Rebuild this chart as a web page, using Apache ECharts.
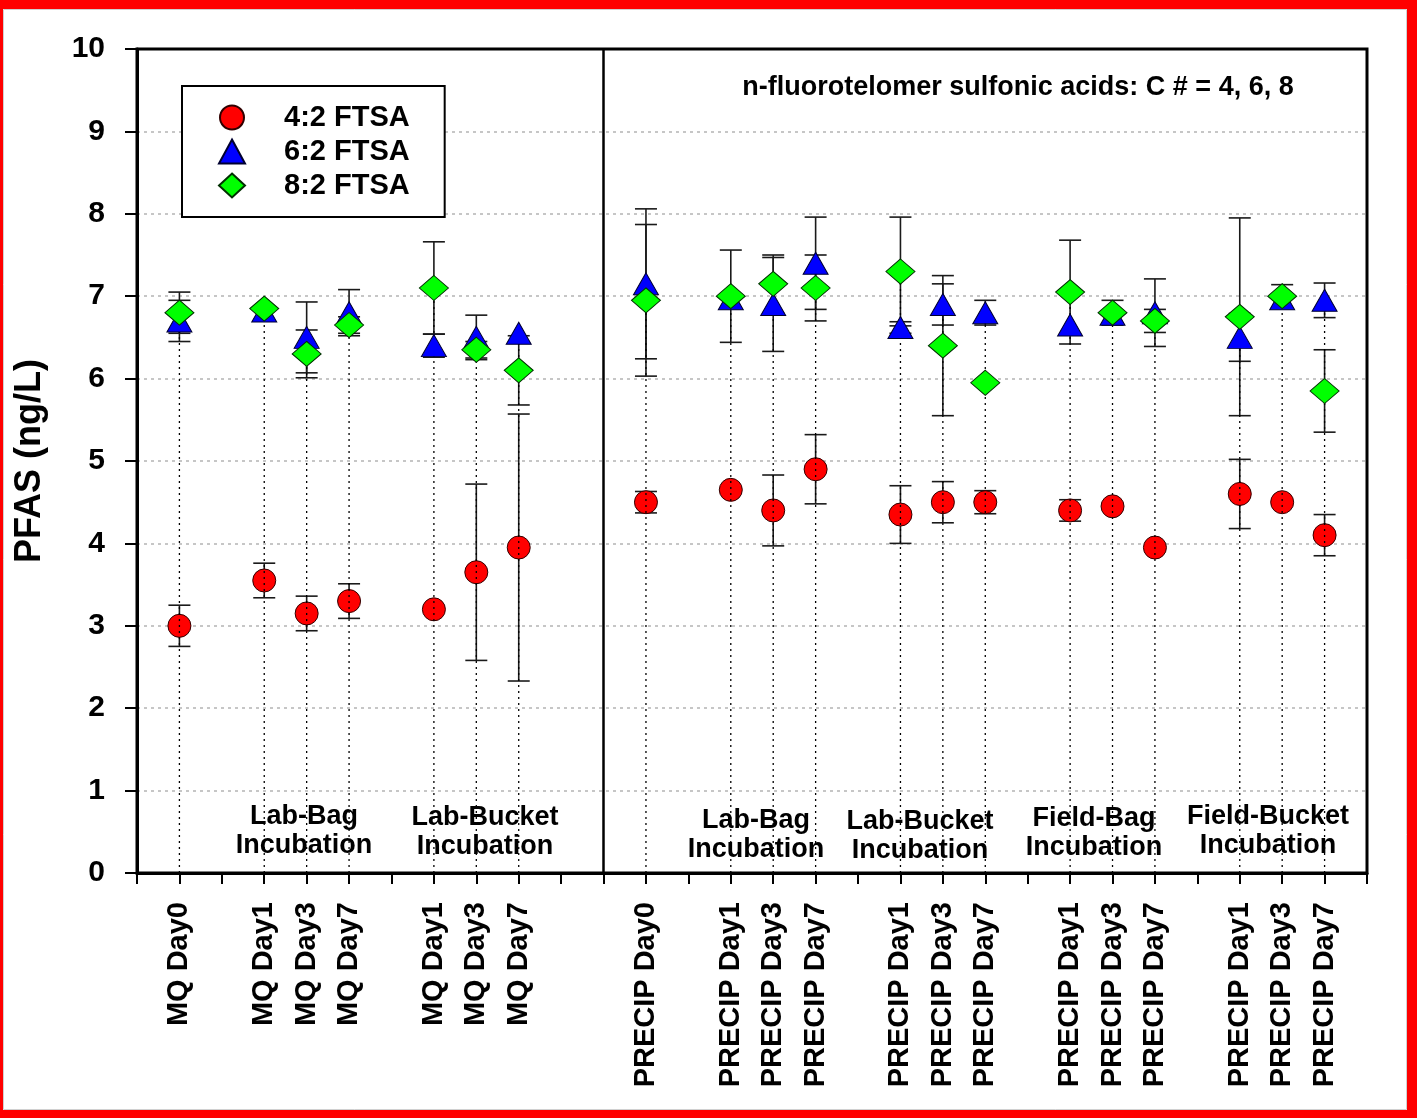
<!DOCTYPE html>
<html>
<head>
<meta charset="utf-8">
<script src="https://cdn.jsdelivr.net/npm/echarts@6/dist/echarts.min.js"></script>
<style>
  html, body { margin: 0; padding: 0; background: #fff; }
  #chart { width: 1417px; height: 1118px; }
</style>
</head>
<body>
<div id="chart"></div>
<script>
// Sample slots on the x axis (gaps separate the incubation groups)
const positions = [1, 3, 4, 5, 7, 8, 9, 12, 14, 15, 16, 18, 19, 20, 22, 23, 24, 26, 27, 28];
const sampleLabels = [
  'MQ Day0', 'MQ Day1', 'MQ Day3', 'MQ Day7', 'MQ Day1', 'MQ Day3', 'MQ Day7',
  'PRECIP Day0', 'PRECIP Day1', 'PRECIP Day3', 'PRECIP Day7',
  'PRECIP Day1', 'PRECIP Day3', 'PRECIP Day7',
  'PRECIP Day1', 'PRECIP Day3', 'PRECIP Day7',
  'PRECIP Day1', 'PRECIP Day3', 'PRECIP Day7'
];
const seriesNames = ['4:2 FTSA', '6:2 FTSA', '8:2 FTSA'];

// Mean concentrations (ng/L)
const ftsa42 = [3.0, 3.55, 3.15, 3.3, 3.2, 3.65, 3.95, 4.5, 4.65, 4.4, 4.9, 4.35, 4.5, 4.5, 4.4, 4.45, 3.95, 4.6, 4.5, 4.1];
const ftsa62 = [6.7, 6.82, 6.5, 6.8, 6.4, 6.5, 6.55, 7.15, 6.97, 6.9, 7.4, 6.62, 6.9, 6.8, 6.65, 6.78, 6.8, 6.5, 6.97, 6.95];
const ftsa82 = [6.8, 6.85, 6.3, 6.65, 7.1, 6.35, 6.1, 6.95, 7.0, 7.15, 7.1, 7.3, 6.4, 5.95, 7.05, 6.8, 6.7, 6.75, 7.0, 5.85];

// Standard deviations (null = no bar drawn)
const err42 = [0.25, 0.21, 0.21, 0.21, null, 1.07, 1.62, 0.13, null, 0.43, 0.42, 0.35, 0.25, 0.14, 0.13, null, null, 0.42, null, 0.25];
const err62 = [0.25, null, 0.43, 0.28, 0.14, 0.27, null, 0.91, null, 0.57, 0.56, 0.07, 0.25, 0.15, null, null, 0.41, 0.29, null, 0.21];
const err82 = [0.25, null, 0.29, 0.1, 0.56, 0.1, 0.42, 0.92, 0.56, 0.35, 0.4, 0.66, 0.85, null, 0.63, 0.15, 0.14, 1.2, 0.14, 0.5];

const yTicks = [0, 1, 2, 3, 4, 5, 6, 7, 8, 9, 10];

const groupLabels = [
  { text: 'Lab-Bag\nIncubation', x: 304, y: 831 },
  { text: 'Lab-Bucket\nIncubation', x: 485, y: 832 },
  { text: 'Lab-Bag\nIncubation', x: 756, y: 835 },
  { text: 'Lab-Bucket\nIncubation', x: 920, y: 836 },
  { text: 'Field-Bag\nIncubation', x: 1094, y: 833 },
  { text: 'Field-Bucket\nIncubation', x: 1268, y: 831 }
];

const FONT = '"Liberation Sans", Arial, Helvetica, sans-serif';
const labelAt = {};
positions.forEach((p, i) => { labelAt[p] = sampleLabels[i]; });

function pairs(vals) { return positions.map((x, i) => [x, vals[i]]); }
function errRows(vals, errs) {
  const out = [];
  positions.forEach((x, i) => {
    if (errs[i] != null) out.push([x, vals[i] - errs[i], vals[i] + errs[i]]);
  });
  return out;
}
const dropRows = positions.map((x, i) => [x, Math.max(ftsa42[i], ftsa62[i], ftsa82[i])]);

function renderErr(params, api) {
  const x = api.value(0);
  const lo = api.coord([x, api.value(1)]);
  const hi = api.coord([x, api.value(2)]);
  const w = 11;
  const st = { stroke: '#1a1a1a', lineWidth: 1.6 };
  return {
    type: 'group',
    children: [
      { type: 'line', shape: { x1: lo[0], y1: lo[1], x2: hi[0], y2: hi[1] }, style: st },
      { type: 'line', shape: { x1: lo[0] - w, y1: lo[1], x2: lo[0] + w, y2: lo[1] }, style: st },
      { type: 'line', shape: { x1: hi[0] - w, y1: hi[1], x2: hi[0] + w, y2: hi[1] }, style: st }
    ]
  };
}
function renderDrop(params, api) {
  const x = api.value(0);
  const a = api.coord([x, 0]);
  const b = api.coord([x, api.value(1)]);
  return {
    type: 'line',
    shape: { x1: a[0], y1: a[1], x2: b[0], y2: b[1] },
    style: { stroke: '#000', lineWidth: 1.3, lineDash: [2, 4] }
  };
}

const chart = echarts.init(document.getElementById('chart'), null, { renderer: 'canvas' });

const option = {
  backgroundColor: '#fff',
  animation: false,
  textStyle: { fontFamily: FONT },
  grid: { left: 137, top: 49, right: 50, bottom: 245, show: true, borderColor: '#000', borderWidth: 3, backgroundColor: 'transparent' },
  legend: {
    orient: 'vertical',
    left: 182, top: 86,
    padding: [17, 35, 17, 36],
    itemGap: 5,
    itemWidth: 26, itemHeight: 24,
    borderColor: '#000', borderWidth: 2,
    backgroundColor: '#fff',
    selectedMode: false,
    data: [
      { name: seriesNames[0], icon: 'circle' },
      { name: seriesNames[1], icon: 'triangle' },
      { name: seriesNames[2], icon: 'diamond' }
    ],
    textStyle: { fontFamily: FONT, fontSize: 29, fontWeight: 'bold', color: '#000', padding: [0, 0, 0, 34], lineHeight: 24 }
  },
  xAxis: {
    type: 'value', min: 0, max: 29, interval: 1,
    axisLine: { show: true, lineStyle: { color: '#000', width: 3 } },
    axisTick: { show: true, inside: false, length: 11, lineStyle: { color: '#000', width: 2 } },
    splitLine: { show: false },
    axisLabel: {
      rotate: 90, margin: 29,
      fontFamily: FONT, fontSize: 29, fontWeight: 'bold', color: '#000',
      formatter: v => labelAt[v] || ''
    }
  },
  yAxis: {
    type: 'value', min: yTicks[0], max: yTicks[yTicks.length - 1], interval: 1,
    name: 'PFAS (ng/L)', nameLocation: 'middle', nameGap: 89,
    nameTextStyle: { fontFamily: FONT, fontSize: 36, fontWeight: 'bold', color: '#000' },
    axisLine: { show: true, lineStyle: { color: '#000', width: 3 } },
    axisTick: { show: true, inside: false, length: 12, lineStyle: { color: '#000', width: 2 } },
    splitLine: { show: true, showMinLine: false, showMaxLine: false, lineStyle: { color: '#b4b4b4', width: 1.5, type: [3, 4] } },
    axisLabel: { margin: 32, fontFamily: FONT, fontSize: 30, fontWeight: 'bold', color: '#000' }
  },
  series: [
    {
      type: 'custom', name: 'err42', renderItem: renderErr, data: errRows(ftsa42, err42),
      encode: { x: 0, y: [1, 2] }, z: 2, silent: true
    },
    {
      type: 'custom', name: 'err62', renderItem: renderErr, data: errRows(ftsa62, err62),
      encode: { x: 0, y: [1, 2] }, z: 2, silent: true
    },
    {
      type: 'custom', name: 'err82', renderItem: renderErr, data: errRows(ftsa82, err82),
      encode: { x: 0, y: [1, 2] }, z: 2, silent: true
    },
    {
      name: seriesNames[0], type: 'scatter', symbol: 'circle', symbolSize: 23,
      itemStyle: { color: '#ff0000', borderColor: '#300000', borderWidth: 1, opacity: 1 },
      data: pairs(ftsa42), z: 3
    },
    {
      type: 'custom', name: 'drop', renderItem: renderDrop, data: dropRows,
      encode: { x: 0, y: 1 }, z: 4, silent: true,
      markLine: {
        silent: true, symbol: 'none', label: { show: false },
        lineStyle: { color: '#000', width: 2.5, type: 'solid' },
        data: [{ xAxis: 11 }]
      }
    },
    {
      name: seriesNames[1], type: 'scatter', symbol: 'triangle', symbolSize: [25, 22],
      itemStyle: { color: '#0000ff', borderColor: '#000030', borderWidth: 1, opacity: 1 },
      data: pairs(ftsa62), z: 5
    },
    {
      name: seriesNames[2], type: 'scatter', symbol: 'diamond', symbolSize: [29, 25],
      itemStyle: { color: '#00ff00', borderColor: '#003000', borderWidth: 1, opacity: 1 },
      data: pairs(ftsa82), z: 6
    }
  ],
  graphic: [
    // page frame
    { type: 'rect', left: 0, top: 0, shape: { width: 1417, height: 9 }, style: { fill: '#ff0000' }, z: 100 },
    { type: 'rect', left: 0, top: 1110, shape: { width: 1417, height: 8 }, style: { fill: '#ff0000' }, z: 100 },
    { type: 'rect', left: 0, top: 0, shape: { width: 3, height: 1118 }, style: { fill: '#ff0000' }, z: 100 },
    { type: 'rect', left: 1407, top: 0, shape: { width: 10, height: 1118 }, style: { fill: '#ff0000' }, z: 100 },
    { type: 'rect', x: 3.5, y: 9.5, shape: { width: 1403, height: 1100 }, style: { fill: 'none', stroke: '#d0d0d0', lineWidth: 1 }, z: 100 },
    // annotation over the right panel
    {
      type: 'text', x: 1018, y: 88, z: 50,
      style: {
        text: 'n-fluorotelomer sulfonic acids: C # = 4, 6, 8', fontFamily: FONT, fontSize: 27, fontWeight: 'bold', fill: '#000',
        align: 'center', verticalAlign: 'middle'
      }
    }
  ].concat(groupLabels.map(g => ({
    type: 'text', x: g.x, y: g.y, z: 50,
    style: {
      text: g.text, fontFamily: FONT, fontSize: 27, fontWeight: 'bold', fill: '#000',
      align: 'center', verticalAlign: 'middle', lineHeight: 29
    }
  })))
};

chart.setOption(option);
</script>
</body>
</html>
